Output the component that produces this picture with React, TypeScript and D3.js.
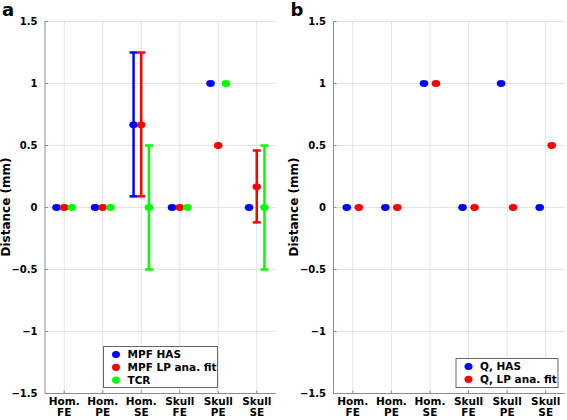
import React from "react";
import * as d3 from "d3";

const categories = ["Hom.\nFE", "Hom.\nPE", "Hom.\nSE", "Skull\nFE", "Skull\nPE", "Skull\nSE"];
const yTicks = [-1.5, -1, -0.5, 0, 0.5, 1, 1.5];

// Panel a
const mpfHas = [0, 0, 0.667, 0, 1, 0];
const mpfHasLo = [null, null, 0.09, null, null, null];
const mpfHasHi = [null, null, 1.25, null, null, null];
const mpfLp = [0, 0, 0.667, 0, 0.5, 0.167];
const mpfLpLo = [null, null, 0.09, null, null, -0.12];
const mpfLpHi = [null, null, 1.25, null, null, 0.46];
const tcr = [0, 0, 0, 0, 1, 0];
const tcrLo = [null, null, -0.5, null, null, -0.5];
const tcrHi = [null, null, 0.5, null, null, 0.5];

// Panel b
const qHas = [0, 0, 1, 0, 1, 0];
const qLp = [0, 0, 1, 0, 0, 0.5];

const FONT = "DejaVu Sans, sans-serif";

type Series = {
  name: string;
  color: string;
  values: number[];
  lo?: (number | null)[];
  hi?: (number | null)[];
  offset: number;
};

function Panel({
  x0, x1, letter, series, legend,
}: {
  x0: number; x1: number; letter: string; series: Series[];
  legend: { x: number; y: number; w: number; h: number };
}) {
  const top = 21.5, bottom = 393.5;
  const x = d3.scaleLinear().domain([0.5, 6.5]).range([x0, x1]);
  const y = d3.scaleLinear().domain([-1.5, 1.5]).range([bottom, top]);
  const grid = "#e3e3e3";
  const axis = "#8c8c8c";
  return (
    <g fontFamily={FONT} fontWeight="bold">
      <text x={x0 - 43} y={15.5} fontSize={18} fill="#000">{letter}</text>
      <text
        transform={`translate(${x0 - 35.5},207) rotate(-90)`}
        textAnchor="middle"
        fontSize={12}
        fill="#000"
      >
        Distance (mm)
      </text>
      {yTicks.map((t) => (
        <line key={"gy" + t} x1={x0} x2={x1} y1={y(t)} y2={y(t)} stroke={grid} strokeWidth={1} />
      ))}
      {categories.map((c, i) => (
        <line key={"gx" + i} x1={x(i + 1)} x2={x(i + 1)} y1={top} y2={bottom} stroke={grid} strokeWidth={1} />
      ))}
      <line x1={x0} x2={x0} y1={top} y2={bottom} stroke={axis} strokeWidth={1} />
      <line x1={x0} x2={x1} y1={bottom} y2={bottom} stroke={axis} strokeWidth={1} />
      {yTicks.map((t) => (
        <g key={"ty" + t}>
          <line x1={x0} x2={x0 + 3} y1={y(t)} y2={y(t)} stroke={axis} />
          <text x={x0 - 7.5} y={y(t)} dy="0.35em" textAnchor="end" fontSize={10} fill="#000">
            {d3.format("")(t)}
          </text>
        </g>
      ))}
      {categories.map((c, i) => {
        const lines = c.split("\n");
        return (
          <g key={"tx" + i}>
            <line x1={x(i + 1)} x2={x(i + 1)} y1={bottom} y2={bottom - 3} stroke={axis} />
            {lines.map((l, j) => (
              <text key={j} x={x(i + 1)} y={404.5 + j * 11.5} textAnchor="middle" fontSize={10.5} fill="#000">
                {l}
              </text>
            ))}
          </g>
        );
      })}
      {series.map((s) => (
        <g key={s.name}>
          {s.values.map((v, i) => {
            const cx = x(i + 1) + s.offset;
            const lo = s.lo ? s.lo[i] : null;
            const hi = s.hi ? s.hi[i] : null;
            return (
              <g key={i}>
                {lo != null && hi != null && (
                  <g stroke={s.color} strokeWidth={2.5}>
                    <line x1={cx} x2={cx} y1={y(lo)} y2={y(hi)} />
                    <line x1={cx - 4} x2={cx + 4} y1={y(lo)} y2={y(lo)} />
                    <line x1={cx - 4} x2={cx + 4} y1={y(hi)} y2={y(hi)} />
                  </g>
                )}
                <ellipse cx={cx} cy={y(v)} rx={4.3} ry={3.4} fill={s.color} />
              </g>
            );
          })}
        </g>
      ))}
      <rect x={legend.x} y={legend.y} width={legend.w} height={legend.h} fill="#fff" stroke="#666" strokeWidth={1} />
      {series.map((s, i) => (
        <g key={"lg" + s.name}>
          <ellipse cx={legend.x + 12.5} cy={legend.y + 8 + i * 12.8} rx={4} ry={3.6} fill={s.color} />
          <text x={legend.x + 24} y={legend.y + 8 + i * 12.8} dy="0.35em" fontSize={10.5} fill="#000">
            {s.name}
          </text>
        </g>
      ))}
    </g>
  );
}

export default function App() {
  const seriesA: Series[] = [
    { name: "MPF HAS", color: "#0000ff", values: mpfHas, lo: mpfHasLo, hi: mpfHasHi, offset: -7.7 },
    { name: "MPF LP ana. fit", color: "#ff0000", values: mpfLp, lo: mpfLpLo, hi: mpfLpHi, offset: 0 },
    { name: "TCR", color: "#00ff00", values: tcr, lo: tcrLo, hi: tcrHi, offset: 7.7 },
  ];
  const seriesB: Series[] = [
    { name: "Q, HAS", color: "#0000ff", values: qHas, offset: -6 },
    { name: "Q, LP ana. fit", color: "#ff0000", values: qLp, offset: 6 },
  ];
  return (
    <svg width={567} height={420} style={{ position: "absolute", left: 0, top: 0, background: "#fff" }}>
      <rect width={567} height={420} fill="#fff" />
      <Panel x0={45} x1={276} letter="a" series={seriesA} legend={{ x: 103.5, y: 346.5, w: 114, h: 41 }} />
      <Panel x0={333.5} x1={565} letter="b" series={seriesB} legend={{ x: 456, y: 358.5, w: 102, h: 29 }} />
    </svg>
  );
}
